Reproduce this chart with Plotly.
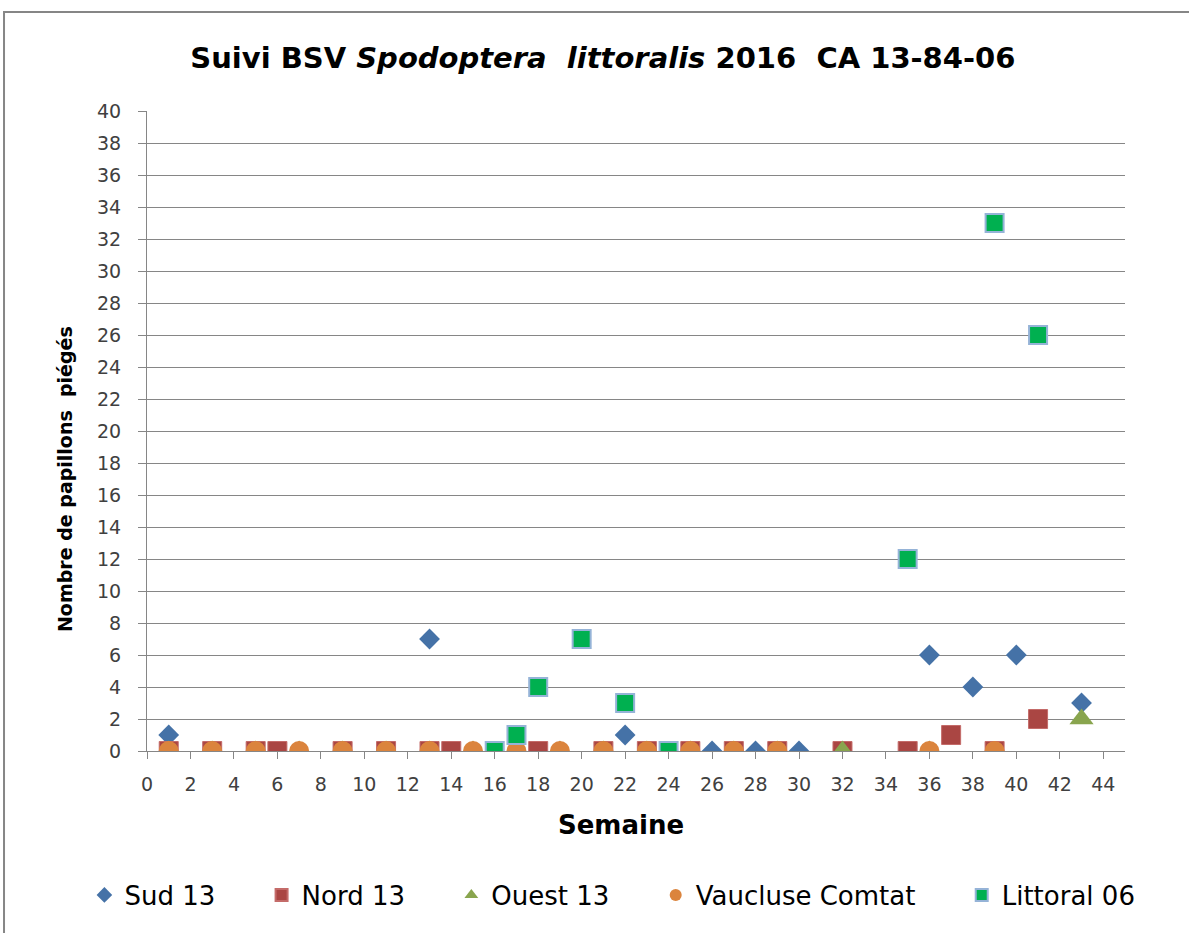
import plotly.graph_objects as go

# Data
sud_weeks = [1, 13, 22, 26, 28, 30, 36, 38, 40, 43]
sud_vals = [1, 7, 1, 0, 0, 0, 6, 4, 6, 3]

nord_weeks = [1, 3, 5, 6, 9, 11, 13, 14, 18, 21, 23, 25, 27, 29, 32, 35, 37, 39, 41]
nord_vals = [0, 0, 0, 0, 0, 0, 0, 0, 0, 0, 0, 0, 0, 0, 0, 0, 1, 0, 2]

ouest_weeks = [1, 3, 5, 7, 9, 11, 13, 15, 17, 19, 21, 23, 25, 27, 29, 32, 36, 43]
ouest_vals = [0, 0, 0, 0, 0, 0, 0, 0, 0, 0, 0, 0, 0, 0, 0, 0, 0, 2]

vaucluse_weeks = [1, 3, 5, 7, 9, 11, 13, 15, 17, 19, 21, 23, 25, 27, 29, 36, 39]
vaucluse_vals = [0] * len(vaucluse_weeks)

littoral_weeks = [16, 17, 18, 20, 22, 24, 35, 39, 41]
littoral_vals = [0, 1, 4, 7, 3, 0, 12, 33, 26]

series_names = ["Sud 13", "Nord 13", "Ouest 13", "Vaucluse Comtat", "Littoral 06"]

x_ticks = list(range(0, 45, 2))
y_ticks = list(range(0, 41, 2))

FONT = "DejaVu Sans"
PAD = "\u00a0" * 5

fig = go.Figure()
fig.add_trace(go.Scatter(x=sud_weeks, y=sud_vals, mode="markers", name=series_names[0] + PAD,
                         marker=dict(symbol="diamond", size=16, color="#4572A7",
                                     line=dict(width=0))))
fig.add_trace(go.Scatter(x=nord_weeks, y=nord_vals, mode="markers", name=series_names[1] + PAD,
                         marker=dict(symbol="square", size=19, color="#AA4643",
                                     line=dict(width=1, color="#C46B69"))))
fig.add_trace(go.Scatter(x=ouest_weeks, y=ouest_vals, mode="markers", name=series_names[2] + PAD,
                         marker=dict(symbol="triangle-up", size=21, color="#89A54E",
                                     line=dict(width=0))))
fig.add_trace(go.Scatter(x=vaucluse_weeks, y=vaucluse_vals, mode="markers", name=series_names[3] + PAD,
                         marker=dict(symbol="circle", size=20, color="#DB843D",
                                     line=dict(width=0))))
fig.add_trace(go.Scatter(x=littoral_weeks, y=littoral_vals, mode="markers", name=series_names[4],
                         marker=dict(symbol="square", size=18, color="#00B050",
                                     line=dict(width=2, color="#95B3D7"))))

fig.update_layout(
    width=1189, height=933,
    paper_bgcolor="white", plot_bgcolor="white",
    margin=dict(l=147, r=64, t=111, b=182),
    font=dict(family=FONT, color="#404040"),
    title=dict(text="<b>Suivi BSV <i>Spodoptera  littoralis</i> 2016  CA 13-84-06</b>",
               x=0.507, xanchor="center", y=0.938, yanchor="middle",
               font=dict(family=FONT, size=29, color="black")),
    showlegend=True,
    legend=dict(orientation="h", x=-0.064, xanchor="left", y=-0.225, yanchor="middle",
                font=dict(family=FONT, size=26, color="black"),
                itemsizing="constant", traceorder="normal"),
    xaxis=dict(range=[0, 45], tickvals=x_ticks, ticks="outside", ticklen=7,
               tickcolor="#868686", showline=True, linecolor="#868686",
               showgrid=False, zeroline=False, ticklabelstandoff=9,
               tickfont=dict(family=FONT, size=19, color="#404040")),
    yaxis=dict(range=[0, 40], tickvals=y_ticks, ticks="outside", ticklen=8,
               tickcolor="#868686", showline=True, linecolor="#868686",
               showgrid=True, gridcolor="#868686", gridwidth=1, zeroline=False,
               ticklabelstandoff=13,
               tickfont=dict(family=FONT, size=19, color="#404040")),
    annotations=[
        dict(text="<b>Semaine</b>", xref="paper", yref="paper",
             x=0.4847, y=-0.115, xanchor="center", yanchor="middle",
             showarrow=False, font=dict(family=FONT, size=26, color="black")),
        dict(text="<b>Nombre de papillons  piégés</b>", xref="paper", yref="paper",
             x=-0.0838, y=0.425, xanchor="center", yanchor="middle", textangle=-90,
             showarrow=False, font=dict(family=FONT, size=19, color="black")),
    ],
)

# chart outer border (only left and top visible in the reference)
fig.add_shape(type="rect", xref="paper", yref="paper",
              x0=-0.1462, x1=1.2, y0=-0.4, y1=1.1547,
              line=dict(color="#868686", width=2), fillcolor="rgba(0,0,0,0)", layer="below")

fig.write_html("out.html", config={"displayModeBar": False},
               post_script="document.body.style.margin='0';document.body.style.overflow='hidden';")
